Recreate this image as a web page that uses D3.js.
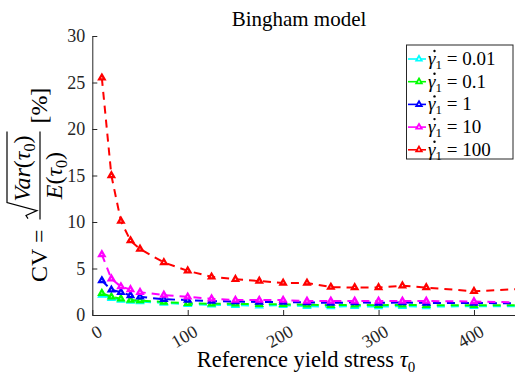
<!DOCTYPE html>
<html>
<head>
<meta charset="utf-8">
<script src="https://cdn.jsdelivr.net/npm/d3@7"></script>
<style>
  html, body { margin: 0; padding: 0; background: #fff; }
  svg { display: block; }
</style>
</head>
<body>
<svg id="chart" width="515" height="378"></svg>
<script>
// Reference yield stress values (x) shared by all series
const tau0 = [10, 20, 30, 40, 50, 75, 100, 125, 150, 175, 200, 225, 250, 275, 300, 325, 350, 400, 450];

// Coefficient of variation [%] for each shear rate
const cv001 = [2.15, 1.8, 1.6, 1.5, 1.45, 1.3, 1.15, 1.1, 1.05, 1.0, 1.05, 0.95, 0.9, 0.95, 0.9, 0.95, 0.9, 0.95, 0.95];
const cv01  = [2.35, 1.95, 1.75, 1.6, 1.55, 1.4, 1.25, 1.2, 1.2, 1.15, 1.15, 1.1, 1.05, 1.1, 1.05, 1.1, 1.05, 1.05, 1.05];
const cv1   = [3.7, 2.7, 2.45, 2.1, 1.95, 1.7, 1.6, 1.5, 1.45, 1.4, 1.4, 1.35, 1.3, 1.35, 1.3, 1.35, 1.3, 1.3, 1.25];
const cv10  = [6.5, 3.9, 3.05, 2.75, 2.45, 2.15, 1.95, 1.75, 1.6, 1.6, 1.6, 1.5, 1.5, 1.5, 1.5, 1.5, 1.5, 1.45, 1.35];
const cv100 = [25.5, 15.0, 10.1, 8.0, 7.1, 5.65, 4.75, 4.1, 3.85, 3.65, 3.45, 3.45, 3.0, 2.95, 2.95, 3.15, 2.95, 2.55, 2.8];

const rateLabels = ["0.01", "0.1", "1", "10", "100"];
const rateColors = ["#00ffff", "#00ff00", "#0000ff", "#ff00ff", "#ff0000"];
const seriesValues = [cv001, cv01, cv1, cv10, cv100];

const xTicks = [0, 100, 200, 300, 400];
const yTicks = [0, 5, 10, 15, 20, 25, 30];

const serif = "Liberation Serif";
const axisColor = "#262626";

const svg = d3.select("#chart");

const x = d3.scaleLinear().domain([0, 443]).range([92.3, 515]);
const y = d3.scaleLinear().domain([0, 30]).range([315, 36]);

// Axes (ticks pointing inward)
const gx = svg.append("g").attr("transform", `translate(0,${y(0)})`)
  .call(d3.axisBottom(x).tickValues(xTicks).tickSizeInner(-5).tickSizeOuter(0).tickFormat(""));
const gy = svg.append("g").attr("transform", `translate(${x(0)},0)`)
  .call(d3.axisLeft(y).tickValues(yTicks).tickSizeInner(-5).tickSizeOuter(0).tickFormat(""));
[gx, gy].forEach(g => {
  g.select(".domain").attr("stroke", axisColor).attr("stroke-width", 1);
  g.selectAll(".tick line").attr("stroke", axisColor).attr("stroke-width", 1);
});

// Y tick labels
svg.append("g").selectAll("text").data(yTicks).join("text")
  .attr("x", x(0) - 7).attr("y", d => y(d)).attr("dy", "0.35em")
  .attr("text-anchor", "end")
  .attr("font-family", serif).attr("font-size", 18).attr("fill", axisColor)
  .text(d => d);

// X tick labels, rotated
svg.append("g").selectAll("text").data(xTicks).join("text")
  .attr("transform", d => `translate(${x(d) + 5},${y(0) + 9}) rotate(-30)`)
  .attr("dy", "0.7em")
  .attr("text-anchor", "end")
  .attr("font-family", serif).attr("font-size", 18).attr("fill", axisColor)
  .text(d => d);

// Series: dashed lines with triangle markers
const plot = svg.append("g");
const line = d3.line().x((d, i) => x(tau0[i])).y(d => y(d));
const tri = d3.symbol().type(d3.symbolTriangle).size(13);

seriesValues.forEach((vals, k) => {
  plot.append("path").datum(vals)
    .attr("d", line)
    .attr("fill", "none")
    .attr("stroke", rateColors[k])
    .attr("stroke-width", 2)
    .attr("stroke-dasharray", "8,6");
  plot.append("g").selectAll("path").data(vals).join("path")
    .attr("transform", (d, i) => `translate(${x(tau0[i])},${y(d)})`)
    .attr("d", tri)
    .attr("fill", "#fff")
    .attr("stroke", rateColors[k])
    .attr("stroke-width", 2.3);
});

// Title
svg.append("text")
  .attr("x", 299).attr("y", 26).attr("text-anchor", "middle")
  .attr("font-family", serif).attr("font-size", 21).attr("fill", "#000")
  .text("Bingham model");

// X label
const xl = svg.append("text")
  .attr("x", 306).attr("y", 367).attr("text-anchor", "middle")
  .attr("font-family", serif).attr("font-size", 22.5).attr("fill", "#000");
xl.append("tspan").text("Reference yield stress ");
xl.append("tspan").attr("font-style", "italic").text("τ");
xl.append("tspan").attr("font-size", 15).attr("dy", 5).text("0");

// Y label: CV = sqrt(Var(tau0)) / E(tau0) [%]
const yl = svg.append("g").attr("transform", "translate(40,282) rotate(-90)")
  .attr("font-family", serif).attr("fill", "#000");
const fs = 24;
const t1 = yl.append("text").attr("x", 0).attr("y", 7).attr("font-size", fs).text("CV =");
const w1 = t1.node().getComputedTextLength();
const u0 = w1 + 10;

function mathArg(sel, name) {
  sel.append("tspan").attr("font-style", "italic").text(name);
  sel.append("tspan").text("(");
  sel.append("tspan").attr("font-style", "italic").text("τ");
  sel.append("tspan").attr("font-size", 16).attr("dy", 5).text("0");
  sel.append("tspan").attr("dy", -5).text(")");
}
const sqrtW = 17;
const num = yl.append("text").attr("y", -10).attr("font-size", fs);
mathArg(num, "Var");
const numW = num.node().getComputedTextLength() + sqrtW + 3;
const den = yl.append("text").attr("y", 22).attr("font-size", fs);
mathArg(den, "E");
const denW = den.node().getComputedTextLength();
const barW = Math.max(numW, denW) + 2;
num.attr("x", u0 + 1 + sqrtW);
den.attr("x", u0 + (barW - denW) / 2);
// radical sign over the numerator
yl.append("path")
  .attr("d", `M${u0 + 1},${-12} L${u0 + 4},${-14} L${u0 + 9},${-3} L${u0 + sqrtW},${-33} L${u0 + barW},${-33}`)
  .attr("fill", "none").attr("stroke", "#000").attr("stroke-width", 1.2);
// fraction bar
yl.append("line").attr("x1", u0).attr("x2", u0 + barW).attr("y1", 0).attr("y2", 0)
  .attr("stroke", "#000").attr("stroke-width", 1.2);
yl.append("text").attr("x", u0 + barW + 8).attr("y", 7).attr("font-size", fs).text("[%]");

// Legend
const lg = svg.append("g");
lg.append("rect").attr("x", 406.5).attr("y", 45).attr("width", 106.5).attr("height", 114)
  .attr("fill", "#fff").attr("stroke", axisColor).attr("stroke-width", 1);
rateLabels.forEach((lab, k) => {
  const cy = 59 + k * 22.7;
  lg.append("line").attr("x1", 408).attr("x2", 426).attr("y1", cy).attr("y2", cy)
    .attr("stroke", rateColors[k]).attr("stroke-width", 1.6);
  lg.append("path").attr("transform", `translate(419,${cy})`).attr("d", tri)
    .attr("fill", "#fff").attr("stroke", rateColors[k]).attr("stroke-width", 1.8);
  const t = lg.append("text").attr("x", 428).attr("y", cy + 6)
    .attr("font-family", serif).attr("font-size", 19).attr("fill", "#000");
  t.append("tspan").attr("font-style", "italic").text("γ");
  t.append("tspan").attr("font-size", 13).attr("dy", 4).text("1");
  t.append("tspan").attr("dy", -4).text(" = " + lab);
  // dot accent above gamma
  lg.append("circle").attr("cx", 434.5).attr("cy", cy - 8).attr("r", 1.2).attr("fill", "#000");
});
</script>
</body>
</html>
